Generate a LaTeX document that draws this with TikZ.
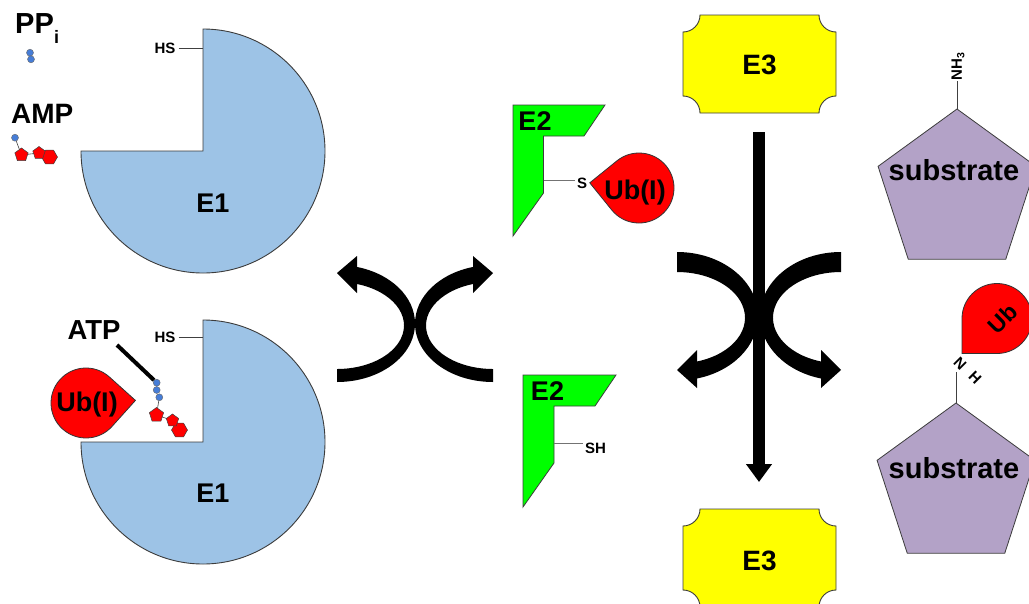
\documentclass[tikz,border=0pt]{standalone}
\usepackage{fontspec}
\setmainfont{Liberation Sans}
\usetikzlibrary{arrows.meta}
\definecolor{enzblue}{RGB}{157,195,230}
\definecolor{ubred}{RGB}{255,0,0}
\definecolor{e2green}{RGB}{0,255,0}
\definecolor{e3yellow}{RGB}{255,255,0}
\definecolor{sublilac}{RGB}{179,162,199}
\definecolor{phosblue}{RGB}{70,125,215}
\definecolor{edgegray}{RGB}{60,60,60}

\tikzset{
  % ubiquitin teardrop, tip pointing along +x
  droplet/.pic={\path[ubdrop] (45:35) arc[start angle=45,end angle=315,radius=35] -- (49.5,0) -- cycle;},
  % E3 plaque with concave corners
  plaque/.pic={\path[e3shape] (-59.5,-49) -- (59.5,-49) arc[start angle=180,end angle=90,radius=17]
     -- (76.5,32) arc[start angle=270,end angle=180,radius=17]
     -- (-59.5,49) arc[start angle=0,end angle=-90,radius=17]
     -- (-76.5,-32) arc[start angle=90,end angle=0,radius=17] -- cycle;},
  % bent exchange arrow, tail below, head above pointing left
  swapup/.pic={\fill (0,58) arc[start angle=90,end angle=-75.14,x radius=78,y radius=58.5]
     -- (20,-68) -- (0,-51) -- (20,-31) -- (20,-40)
     arc[start angle=-72.63,end angle=90,x radius=67,y radius=43.5] -- cycle;},
  % bent transfer arrow, tail above, head below pointing left
  swapdown/.pic={\fill (0,-65) arc[start angle=-90,end angle=75.70,x radius=81,y radius=64.25]
     -- (20,71) -- (0,53) -- (20,33) -- (20,44.5)
     arc[start angle=72.9,end angle=-90,x radius=68,y radius=45.76] -- cycle;},
}

\begin{document}
\begin{tikzpicture}[x=1pt,y=-1pt,
  lbl/.style={font=\bfseries\fontsize{#1}{#1}\selectfont, inner sep=0pt, text=black},
  e1shape/.style={fill=enzblue, draw=edgegray, line width=0.9},
  e2shape/.style={fill=e2green, draw=edgegray, line width=0.8},
  e3shape/.style={fill=e3yellow, draw=edgegray, line width=0.9},
  subshape/.style={fill=sublilac, draw=edgegray, line width=0.8},
  ubdrop/.style={fill=ubred, draw=black!80, line width=0.8},
  ring/.style={fill=ubred, draw=black!75, line width=0.5},
  phos/.style={circle, fill=phosblue, draw=black!60, line width=0.4, minimum size=7, inner sep=0pt},
  bond/.style={draw=black!75, line width=0.8},
]
\useasboundingbox (0,0) rectangle (1029,603);
\fill[white] (0,0) rectangle (1029,603);
\clip (0,0) rectangle (1029,603);

% ---------- E1 (free and loaded) ----------
\path[e1shape] (203,151) -- (203,29) arc[start angle=-90,end angle=180,radius=122] -- cycle;
\path[e1shape] (203,442) -- (203,320) arc[start angle=-90,end angle=180,radius=122] -- cycle;
\node[lbl=27] (e1a) at (213,203) {E1};
\node[lbl=27] (e1b) at (213,493) {E1};
\coordinate (e1aS) at (203,47);
\coordinate (e1bS) at (203,336);
\node[lbl=15] (hs1) at (165,48) {HS};
\node[lbl=15] (hs2) at (165,337.5) {HS};
\draw[bond] (hs1.east) ++(3,0) -- (hs1.east -| e1aS);
\draw[bond] (hs2.east) ++(3,0) -- (hs2.east -| e1bS);

% ---------- PPi ----------
\node[lbl=29, anchor=base west] (pp) at (15,33) {PP};
\node[lbl=18, anchor=base west] (ppi) at (54,43) {i};
\node[phos] (pA) at (30,52.7) {};
\node[phos] (pB) at (31,59.3) {};

% ---------- AMP ----------
\node[lbl=28, anchor=base west] (amp) at (11,123) {AMP};
\node[phos] (ampP) at (15,137.7) {};
\coordinate (ampR1) at (21.5,155);
\coordinate (ampR2) at (39,153);
\coordinate (ampR3) at (49.5,157);
\draw[bond, line width=0.6] (ampP) -- (ampR1);
\draw[bond, line width=0.6] (ampR1) -- (ampR2);
\path[ring] (ampR1) +(-90:7) -- +(-18:7) -- +(54:7) -- +(126:7) -- +(198:7) -- cycle;
\path[ring] (ampR3) +(0:8) -- +(60:8) -- +(120:8) -- +(180:8) -- +(240:8) -- +(300:8) -- cycle;
\path[ring] (ampR2) +(-90:6.5) -- +(-18:6.5) -- +(54:6.5) -- +(126:6.5) -- +(198:6.5) -- cycle;

% ---------- ATP ----------
\node[lbl=27.5] (atp) at (94,330) {ATP};
\coordinate (atptail) at (117,345);
\coordinate (atpR1) at (156.5,415);
\coordinate (atpR2) at (172.5,420.5);
\coordinate (atpR3) at (179.5,430);
\node[phos] (atpP3) at (159.3,397.3) {};
\draw[bond, line width=0.6] (atpP3) -- (atpR1);
\draw[bond, line width=0.6] (atpR1) -- (atpR2);
\node[phos] (atpP2) at (156.7,390) {};
\node[phos] (atpP1) at (156.7,382.7) {};
\draw[line width=4] (atptail) -- (atpP1);
\path[ring] (atpR1) +(-90:7.5) -- +(-18:7.5) -- +(54:7.5) -- +(126:7.5) -- +(198:7.5) -- cycle;
\path[ring] (atpR3) +(0:8) -- +(60:8) -- +(120:8) -- +(180:8) -- +(240:8) -- +(300:8) -- cycle;
\path[ring] (atpR2) +(-90:6.5) -- +(-18:6.5) -- +(54:6.5) -- +(126:6.5) -- +(198:6.5) -- cycle;

% ---------- Ub(I) beside E1 ----------
\pic[rotate=3] at (86,403) {droplet};
\node[lbl=27] (ub1) at (87,405) {Ub(I)};

% ---------- E2 (loaded and free) ----------
\path[e2shape] (513,105) -- (605,105) -- (584,136) -- (543.5,136) -- (543.5,193) -- (513,236) -- cycle;
\path[e2shape] (523,375) -- (616,375) -- (595,406) -- (554,406) -- (554,463) -- (523,507) -- cycle;
\node[lbl=27] (e2a) at (535,121) {E2};
\node[lbl=27] (e2b) at (547.5,391.5) {E2};
\coordinate (e2aS) at (543.5,180);
\coordinate (e2bS) at (554,443);
\node[lbl=15] (s1) at (582,183) {S};
\node[lbl=15] (sh) at (595.5,448) {SH};
\draw[bond, draw=black!55] (e2aS) -- ([xshift=-2]e2aS -| s1.west);
\draw[bond, draw=black!55] (e2bS) -- ([xshift=-2]e2bS -| sh.west);
\pic[rotate=174] at (639,188) {droplet};
\node[lbl=27] (ub2) at (635,193) {Ub(I)};

% ---------- exchange arrows ----------
\pic at (337,324) {swapup};
\pic[xscale=-1] at (493,324) {swapup};
\pic at (677,317) {swapdown};
\pic[xscale=-1] at (841,317) {swapdown};

% ---------- E3 ----------
\pic at (759.5,64) {plaque};
\pic at (759.5,558) {plaque};
\node[lbl=28] (e3a) at (759.5,65) {E3};
\node[lbl=28] (e3b) at (759.5,561) {E3};
\coordinate (vtop) at (759,132);
\coordinate (vbot) at (759,482);
\draw[line width=12, -{Triangle[length=18pt,width=25pt]}] (vtop) -- (vbot);

% ---------- substrates ----------
\coordinate (sub1top) at (957,109);
\coordinate (sub2top) at (956,403);
\path[subshape] (957,192) +(-90:83) -- +(-18:83) -- +(54:83) -- +(126:83) -- +(198:83) -- cycle;
\path[subshape] (956,486) +(-90:83) -- +(-18:83) -- +(54:83) -- +(126:83) -- +(198:83) -- cycle;
\node[lbl=29] (sub1) at (954,170) {substrate};
\node[lbl=29] (sub2) at (954,468) {substrate};
\node[lbl=15, rotate=90] (nh3) at (958,66) {NH\textsubscript{3}};
\draw[bond] (nh3.west -| sub1top) ++(0,1) -- (sub1top);
\node[lbl=15, rotate=-45] (n1) at (960,364) {N};
\node[lbl=15, rotate=-45] (h1) at (975,378) {H};
\coordinate (nbond) at (956,372);
\draw[bond] (nbond) -- (sub2top);
\pic[rotate=225] at (997,318.5) {droplet};
\node[lbl=23, rotate=45] (ub3) at (1003,319) {Ub};
\end{tikzpicture}
\end{document}
